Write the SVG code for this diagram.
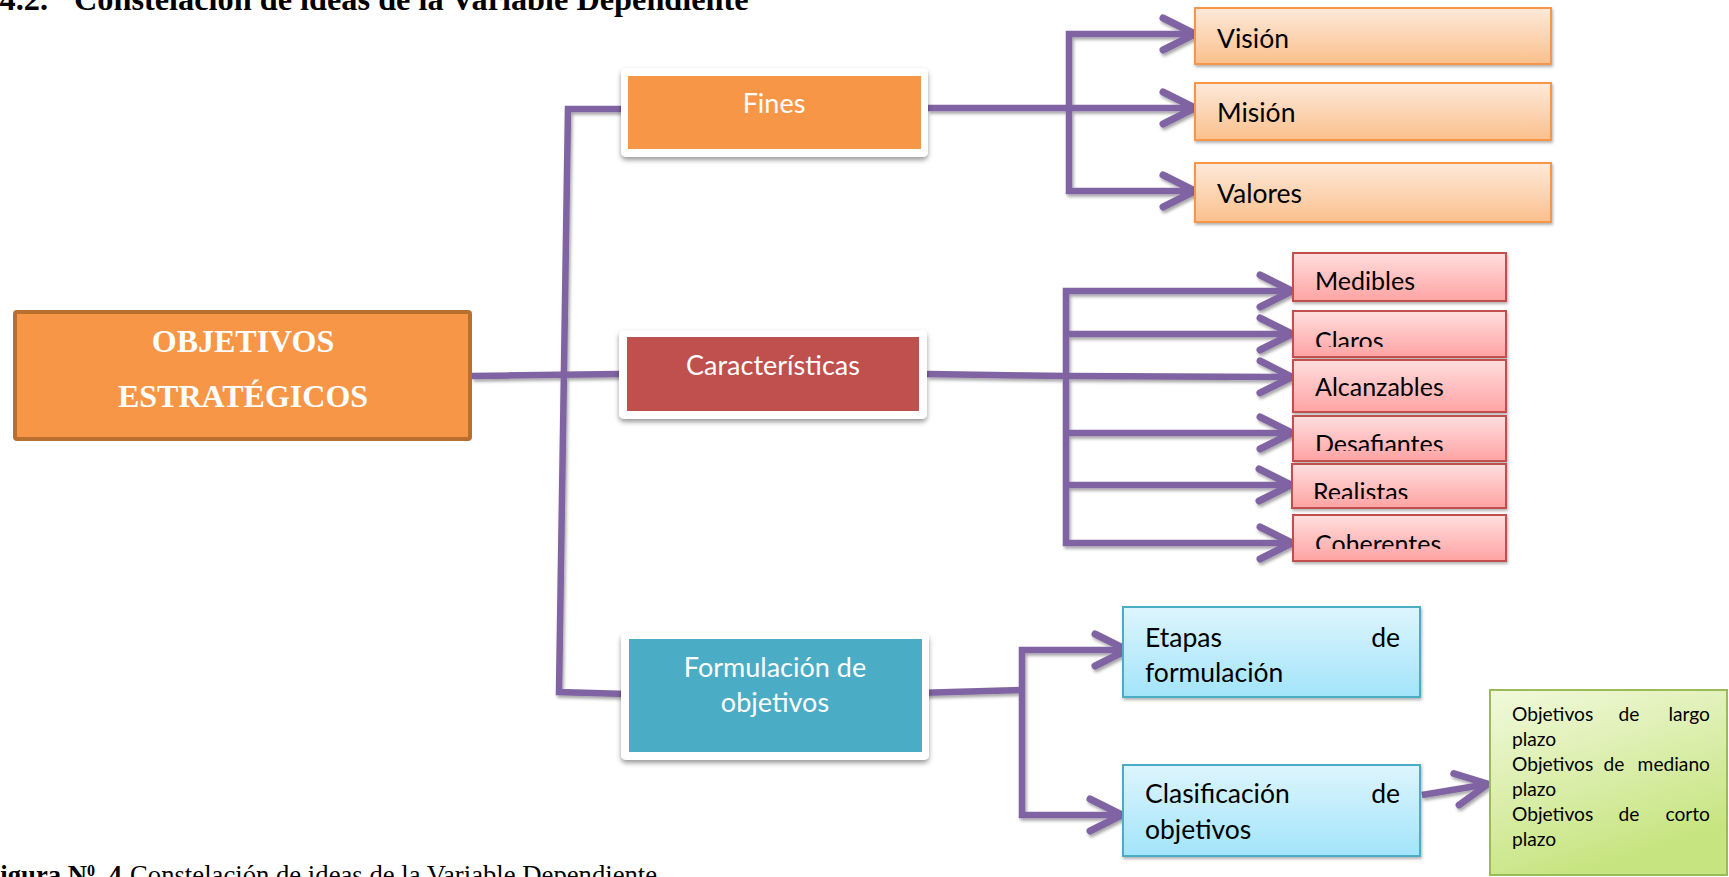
<svg xmlns="http://www.w3.org/2000/svg" width="1729" height="877" viewBox="0 0 1729 877">
<defs>
  <linearGradient id="gPeach" x1="0" y1="0" x2="0" y2="1">
    <stop offset="0" stop-color="#FDE9DA"/><stop offset="1" stop-color="#FBC08C"/>
  </linearGradient>
  <linearGradient id="gPink" x1="0" y1="0" x2="0" y2="1">
    <stop offset="0" stop-color="#FFDEDE"/><stop offset="1" stop-color="#FFA3A3"/>
  </linearGradient>
  <linearGradient id="gCyan" x1="0" y1="0" x2="0" y2="1">
    <stop offset="0" stop-color="#DDF5FD"/><stop offset="1" stop-color="#A2E4FA"/>
  </linearGradient>
  <linearGradient id="gGreen" x1="0" y1="0" x2="0.4" y2="1">
    <stop offset="0" stop-color="#F1F9DC"/><stop offset="1" stop-color="#C6E47F"/>
  </linearGradient>
  <filter id="frameShadow" x="-10%" y="-20%" width="120%" height="150%">
    <feDropShadow dx="0" dy="3" stdDeviation="2.5" flood-color="#000" flood-opacity="0.4"/>
  </filter>
  <filter id="boxShadow" x="-10%" y="-20%" width="120%" height="150%">
    <feDropShadow dx="1" dy="2" stdDeviation="1.5" flood-color="#000" flood-opacity="0.3"/>
  </filter>
  <filter id="lineShadow" x="-5%" y="-5%" width="110%" height="110%">
    <feDropShadow dx="1.5" dy="2.5" stdDeviation="1.5" flood-color="#000" flood-opacity="0.35"/>
  </filter>
  <marker id="chev" markerUnits="userSpaceOnUse" viewBox="-40 -22 46 44" markerWidth="46" markerHeight="44" refX="0" refY="0" orient="auto-start-reverse" overflow="visible">
    <path d="M-32,-16 L0,0 L-32,16" fill="none" stroke="#8064A2" stroke-width="7" stroke-linecap="round" stroke-linejoin="round"/>
  </marker>
  <clipPath id="clipClaros"><rect x="1293" y="311" width="213" height="36"/></clipPath>
  <clipPath id="clipDesaf"><rect x="1293" y="416" width="213" height="35"/></clipPath>
  <clipPath id="clipReal"><rect x="1292" y="464" width="214" height="35"/></clipPath>
  <clipPath id="clipCoher"><rect x="1293" y="515" width="213" height="34"/></clipPath>
</defs>
<style>
  .title{font-family:"Liberation Serif","Times New Roman",serif;font-weight:bold;font-size:32.3px;fill:#000}
  .cap{font-family:"Liberation Serif","Times New Roman",serif;font-size:26.7px;fill:#000}
  .root{font-family:"Liberation Serif","Times New Roman",serif;font-weight:bold;font-size:32px;fill:#fff;text-anchor:middle}
  .frame{fill:#fff;filter:url(#frameShadow)}
  .lbl{font-family:Lato,"Open Sans",sans-serif;font-size:27px;fill:#fff;text-anchor:middle}
  .txt{font-family:Lato,"Open Sans",sans-serif;font-size:26.5px;fill:#000}
  .txts{font-family:Lato,"Open Sans",sans-serif;font-size:25px;fill:#000}
  .txtg{font-family:Lato,"Open Sans",sans-serif;font-size:19.2px;fill:#000}
  .peach{fill:url(#gPeach);stroke:#F79646;stroke-width:2;filter:url(#boxShadow)}
  .pink{fill:url(#gPink);stroke:#C0504D;stroke-width:2;filter:url(#boxShadow)}
  .cyan{fill:url(#gCyan);stroke:#4BACC6;stroke-width:2;filter:url(#boxShadow)}
  .green{fill:url(#gGreen);stroke:#9BBB59;stroke-width:2}
  .ln{fill:none;stroke:#8064A2;stroke-width:6.5;stroke-linejoin:miter}
  .arr{marker-end:url(#chev)}
  .arr2{marker-start:url(#chev);marker-end:url(#chev)}
</style>

<!-- heading and caption -->
<text class="title" x="48" y="10" text-anchor="end">3.4.2.</text>
<text class="title" x="74" y="10">Constelación de ideas de la Variable Dependiente</text>
<text class="cap" y="884"><tspan x="-16" font-weight="bold">Figura N<tspan font-size="16" baseline-shift="super">0</tspan>. 4</tspan><tspan x="130">Constelación de ideas de la Variable Dependiente</tspan></text>

<!-- connectors -->
<g id="connectors" filter="url(#lineShadow)">
  <path class="ln" d="M472,376 L620,374"/>
  <path class="ln" d="M621,109 L568,109 L559,692 L626,694"/>
  <path class="ln arr" d="M928,108 L1195,108"/>
  <path class="ln arr2" d="M1195,34 L1069,34 L1069,191 L1195,191"/>
  <path class="ln arr" d="M927,374 L1066,376 L1292,377"/>
  <path class="ln arr2" d="M1292,291 L1066,291 L1066,543 L1292,543"/>
  <path class="ln arr" d="M1066,334 L1292,334"/>
  <path class="ln arr" d="M1066,433 L1292,433"/>
  <path class="ln arr" d="M1066,485 L1291,485"/>
  <path class="ln" d="M916,693 L1022,690"/>
  <path class="ln arr2" d="M1127,650 L1022,650 L1022,815 L1122,815"/>
  <path class="ln arr" d="M1422,795 L1488,784"/>
</g>

<!-- root node -->
<g id="objetivos-estrategicos">
  <rect x="15" y="312" width="455" height="127" rx="2" fill="#F79646" stroke="#B86F30" stroke-width="4"/>
  <text class="root" x="243" y="352">OBJETIVOS</text>
  <text class="root" x="243" y="407">ESTRATÉGICOS</text>
</g>

<!-- second level -->
<g id="fines">
  <rect class="frame" x="621" y="68" width="307" height="89" rx="5"/>
  <rect x="628" y="76" width="293" height="73" fill="#F79646"/>
  <text class="lbl" x="774" y="113">Fines</text>
</g>
<g id="caracteristicas">
  <rect class="frame" x="619" y="330" width="308" height="89" rx="5"/>
  <rect x="627" y="337" width="292" height="74" fill="#C0504D"/>
  <text class="lbl" x="773" y="375">Características</text>
</g>
<g id="formulacion">
  <rect class="frame" x="621" y="633" width="308" height="127" rx="5"/>
  <rect x="629" y="639" width="293" height="113" fill="#4BACC6"/>
  <text class="lbl" x="775" y="677">Formulación de</text>
  <text class="lbl" x="775" y="712">objetivos</text>
</g>

<!-- fines -->
<g id="vision">
  <rect class="peach" x="1195" y="8" width="356" height="56"/>
  <text class="txt" x="1217" y="48">Visión</text>
</g>
<g id="mision">
  <rect class="peach" x="1195" y="83" width="356" height="57"/>
  <text class="txt" x="1217" y="122">Misión</text>
</g>
<g id="valores">
  <rect class="peach" x="1195" y="163" width="356" height="59"/>
  <text class="txt" x="1217" y="203">Valores</text>
</g>

<!-- caracteristicas -->
<g id="medibles">
  <rect class="pink" x="1293" y="253" width="213" height="48"/>
  <text class="txts" x="1315" y="290">Medibles</text>
</g>
<g id="claros">
  <rect class="pink" x="1293" y="311" width="213" height="46"/>
  <text class="txts" x="1315" y="350" clip-path="url(#clipClaros)">Claros</text>
</g>
<g id="alcanzables">
  <rect class="pink" x="1293" y="360" width="213" height="52"/>
  <text class="txts" x="1315" y="396">Alcanzables</text>
</g>
<g id="desafiantes">
  <rect class="pink" x="1293" y="416" width="213" height="45"/>
  <text class="txts" x="1315" y="453" clip-path="url(#clipDesaf)">Desafiantes</text>
</g>
<g id="realistas">
  <rect class="pink" x="1292" y="464" width="214" height="44"/>
  <text class="txts" x="1313" y="501" clip-path="url(#clipReal)">Realistas</text>
</g>
<g id="coherentes">
  <rect class="pink" x="1293" y="515" width="213" height="46"/>
  <text class="txts" x="1315" y="553" clip-path="url(#clipCoher)">Coherentes</text>
</g>

<!-- formulacion -->
<g id="etapas">
  <rect class="cyan" x="1123" y="607" width="297" height="90"/>
  <text class="txt" x="1145" y="647">Etapas</text>
  <text class="txt" x="1400" y="647" text-anchor="end">de</text>
  <text class="txt" x="1145" y="682">formulación</text>
</g>
<g id="clasificacion">
  <rect class="cyan" x="1123" y="765" width="297" height="91"/>
  <text class="txt" x="1145" y="803">Clasificación</text>
  <text class="txt" x="1400" y="803" text-anchor="end">de</text>
  <text class="txt" x="1145" y="839">objetivos</text>
</g>
<g id="plazos">
  <rect class="green" x="1490" y="690" width="237" height="185"/>
  <text class="txtg" x="1512" y="721">Objetivos</text>
  <text class="txtg" x="1629" y="721" text-anchor="middle">de</text>
  <text class="txtg" x="1710" y="721" text-anchor="end">largo</text>
  <text class="txtg" x="1512" y="746">plazo</text>
  <text class="txtg" x="1512" y="771">Objetivos</text>
  <text class="txtg" x="1614" y="771" text-anchor="middle">de</text>
  <text class="txtg" x="1710" y="771" text-anchor="end">mediano</text>
  <text class="txtg" x="1512" y="796">plazo</text>
  <text class="txtg" x="1512" y="821">Objetivos</text>
  <text class="txtg" x="1629" y="821" text-anchor="middle">de</text>
  <text class="txtg" x="1710" y="821" text-anchor="end">corto</text>
  <text class="txtg" x="1512" y="846">plazo</text>
</g>
</svg>
